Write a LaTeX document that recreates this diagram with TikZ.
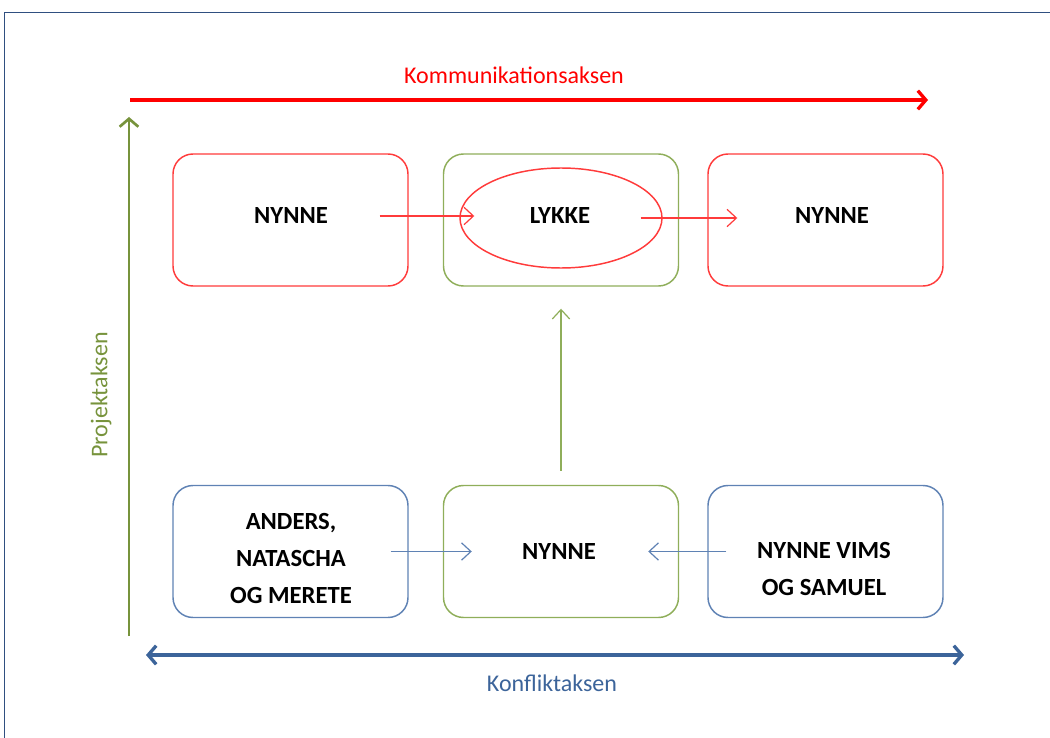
\documentclass[tikz,border=0pt]{standalone}
\usepackage{fontspec}
\setmainfont{Carlito}
\usetikzlibrary{arrows.meta,shapes.geometric}
\definecolor{fr}{HTML}{2F4F80}
\definecolor{axred}{HTML}{FF0000}
\definecolor{axgreen}{HTML}{77933C}
\definecolor{axblue}{HTML}{3C649A}
\definecolor{bred}{HTML}{FF3B3B}
\definecolor{bgreen}{HTML}{8FAE5A}
\definecolor{bblue}{HTML}{5F82B4}
\tikzset{
  box/.style={draw, rounded corners=20*0.75pt, minimum width=235*0.75pt, minimum height=132*0.75pt, line width=1.1pt, inner sep=0pt},
  btext/.style={align=center, font=\fontsize{18.5}{27.75}\selectfont\bfseries, inner sep=0pt},
  axis/.style={line width=3pt},
  thin/.style={line width=0.9pt, -{Straight Barb[length=7pt,width=13pt,line width=0.9pt]}},
  axlabel/.style={font=\fontsize{18}{20}\selectfont, inner sep=0pt}
}
\begin{document}
\begin{tikzpicture}[x=0.75pt,y=-0.75pt]
\useasboundingbox (0,0) rectangle (1050,738);
\begin{scope}
\clip (0,0) rectangle (1050,738);
\draw[fr, line width=1.2pt] (4.5,12.5) rectangle (1070,760);
\end{scope}
% axes
\coordinate (kA) at (130,100);
\coordinate (kB) at (928,100);
\draw[axis, axred, -{Straight Barb[length=6pt,width=14pt,line width=2.5pt]}] (kA) -- (kB);
\node[axlabel, text=axred] (kl) at (514,75) {Kommunikationsaksen};
\coordinate (pA) at (129,636);
\coordinate (pB) at (129,117);
\draw[line width=2.2pt, axgreen, -{Straight Barb[length=6pt,width=14pt,line width=2pt]}] (pA) -- (pB);
\node[axlabel, text=axgreen, rotate=90] (pl) at (101,395) {Projektaksen};
\coordinate (cA) at (146,655);
\coordinate (cB) at (964,655);
\draw[axis, axblue, {Straight Barb[length=6pt,width=14pt,line width=2.5pt]}-{Straight Barb[length=6pt,width=14pt,line width=2.5pt]}] (cA) -- (cB);
\node[axlabel, text=axblue] (cl) at (552,683) {Konfliktaksen};
% boxes
\node[box, draw=bred] (t1) at (290.5,220) {};
\node[box, draw=bgreen] (t2) at (561,220) {};
\node[box, draw=bred] (t3) at (825.5,220) {};
\node[draw=bred, ellipse, line width=1.1pt, minimum width=202*0.75pt, minimum height=100*0.75pt, inner sep=0pt] (ell) at (561,218) {};
\node[box, draw=bblue] (b1) at (290.5,551.5) {};
\node[box, draw=bgreen] (b2) at (561,551.5) {};
\node[box, draw=bblue] (b3) at (825.5,551.5) {};
% texts
\node[btext] (t1t) at (291,216) {NYNNE};
\node[btext] (ellt) at (560,216) {LYKKE};
\node[btext] (t3t) at (832,216) {NYNNE};
\node[btext] (b1t) at (291,558) {ANDERS,\\NATASCHA\\OG MERETE};
\node[btext] (b2t) at (559,551) {NYNNE};
\node[btext] (b3t) at (824,569) {NYNNE VIMS\\OG SAMUEL};
% connectors
\draw[thin, bred] ([xshift=-29*0.75pt]t1.east |- 0,216) -- ([xshift=15*0.75pt]ell.west |- 0,216);
\draw[thin, bred] ([xshift=-22*0.75pt]ell.east |- 0,218) -- ([xshift=30*0.75pt]t3.west |- 0,218);
\draw[thin, bgreen] ([yshift=14*0.75pt]b2.north) -- ([yshift=-22*0.75pt]t2.south);
\draw[thin, bblue] ([xshift=-18*0.75pt]b1.east) -- ([xshift=29*0.75pt]b2.west);
\draw[thin, bblue] ([xshift=19*0.75pt]b3.west) -- ([xshift=-31*0.75pt]b2.east);
\end{tikzpicture}
\end{document}
